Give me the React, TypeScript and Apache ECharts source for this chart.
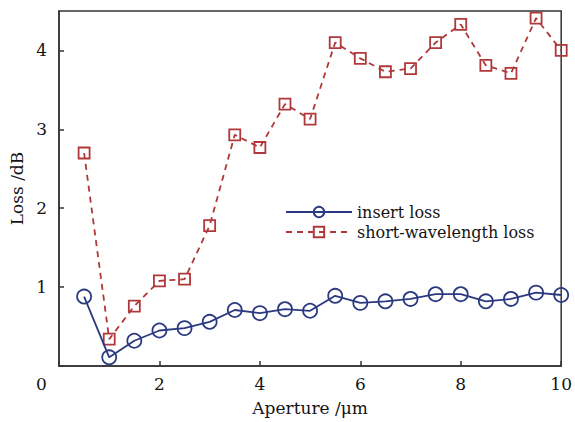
import React, { useEffect, useRef } from "react";
import * as echarts from "echarts";

const apertures = [0.5, 1, 1.5, 2, 2.5, 3, 3.5, 4, 4.5, 5, 5.5, 6, 6.5, 7, 7.5, 8, 8.5, 9, 9.5, 10];
const insertLoss = [0.88, 0.11, 0.32, 0.45, 0.48, 0.56, 0.71, 0.67, 0.72, 0.70, 0.89, 0.80, 0.82, 0.85, 0.91, 0.91, 0.82, 0.85, 0.93, 0.90];
const shortWavelengthLoss = [2.70, 0.34, 0.76, 1.08, 1.10, 1.78, 2.93, 2.77, 3.32, 3.13, 4.10, 3.90, 3.73, 3.77, 4.10, 4.33, 3.81, 3.71, 4.41, 4.00];
const seriesNames = ["insert loss", "short-wavelength loss"];
const xAxisName = "Aperture /μm";
const yAxisName = "Loss /dB";
const originLabel = "0";

const BLUE = "#2b3a80";
const RED = "#b0383a";
const FONT = "DejaVu Serif";
const TEXT = "#141414";

export default function App() {
  const ref = useRef<HTMLDivElement>(null);
  useEffect(() => {
    if (!ref.current) return;
    const chart = echarts.init(ref.current, undefined, { renderer: "svg" });
    const pts = (ys: number[]) => apertures.map((x, i) => [x, ys[i]]);
    chart.setOption({
      animation: false,
      backgroundColor: "#ffffff",
      textStyle: { fontFamily: FONT, color: TEXT },
      grid: {
        left: 59,
        right: 11,
        top: 11,
        bottom: 56,
        show: true,
        borderColor: "#333",
        borderWidth: 1.5,
        backgroundColor: "transparent",
      },
      xAxis: {
        type: "value",
        min: 0,
        max: 10,
        interval: 2,
        name: xAxisName,
        nameLocation: "middle",
        nameGap: 33,
        nameTextStyle: { fontFamily: FONT, fontSize: 17, color: TEXT },
        axisLine: { show: true, lineStyle: { color: "#333", width: 1.5 } },
        axisTick: { show: true, inside: true, length: 5, lineStyle: { color: "#333", width: 1.5 } },
        axisLabel: {
          fontFamily: FONT,
          fontSize: 17,
          color: TEXT,
          margin: 9,
          formatter: (v: number) => (v === 0 ? "" : String(v)),
        },
        splitLine: { show: false },
      },
      yAxis: {
        type: "value",
        min: 0,
        max: 4.5,
        interval: 1,
        name: yAxisName,
        nameLocation: "middle",
        nameGap: 33,
        nameRotate: 90,
        nameTextStyle: { fontFamily: FONT, fontSize: 17, color: TEXT },
        axisLine: { show: true, lineStyle: { color: "#333", width: 1.5 } },
        axisTick: { show: true, inside: true, length: 5, lineStyle: { color: "#333", width: 1.5 } },
        axisLabel: {
          fontFamily: FONT,
          fontSize: 17,
          color: TEXT,
          margin: 12,
          showMaxLabel: false,
          formatter: (v: number) => (v === 0 || v % 1 !== 0 ? "" : String(v)),
        },
        splitLine: { show: false },
      },
      legend: {
        orient: "vertical",
        left: 280,
        top: 199,
        itemWidth: 66,
        itemHeight: 13,
        itemGap: 4,
        textStyle: { fontFamily: FONT, fontSize: 16, color: TEXT },
        data: seriesNames,
      },
      graphic: [
        {
          type: "text",
          left: 36,
          top: 375,
          style: { text: originLabel, font: `17px ${FONT}`, fill: TEXT },
        },
      ],
      series: [
        {
          name: seriesNames[0],
          type: "line",
          data: pts(insertLoss),
          symbol: "circle",
          symbolSize: 14,
          lineStyle: { color: BLUE, width: 1.8 },
          itemStyle: { color: "rgba(255,255,255,0)", borderColor: BLUE, borderWidth: 1.8 },
          z: 3,
        },
        {
          name: seriesNames[1],
          type: "line",
          data: pts(shortWavelengthLoss),
          symbol: "rect",
          symbolSize: 11,
          lineStyle: { color: RED, width: 1.8, type: [6, 5] },
          itemStyle: { color: "rgba(255,255,255,0)", borderColor: RED, borderWidth: 1.8 },
          z: 2,
        },
      ],
    });
    return () => chart.dispose();
  }, []);
  return <div ref={ref} style={{ width: 575, height: 422, position: "absolute", left: 0, top: 0 }} />;
}
